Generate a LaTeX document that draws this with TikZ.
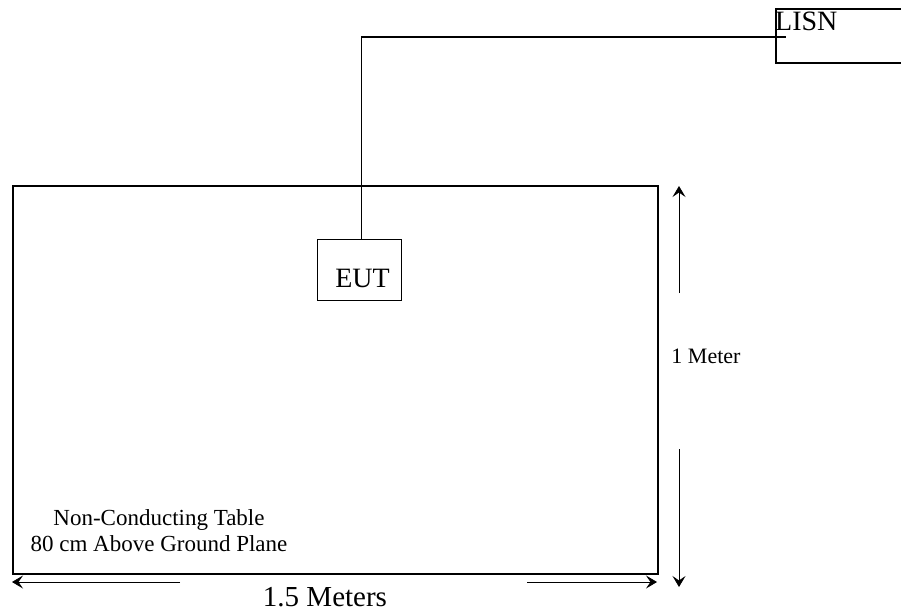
\documentclass[tikz,border=0pt]{standalone}
\usepackage{fontspec}
\setmainfont{Liberation Serif}
\usetikzlibrary{arrows.meta,calc,positioning}

\begin{document}
\begin{tikzpicture}[x=1pt, y=-1pt,
    box/.style={draw, line width=1pt, inner sep=0pt},
    dim/.style={line width=0.8pt, -{Stealth[length=11pt,width=13pt,inset=4.5pt]}}]
    \useasboundingbox (0,0) rectangle (901,611);

    % Table, EUT and LISN
    \node[box, line width=2.4pt, anchor=north west, minimum width=645pt, minimum height=388pt] (table) at (12,185) {};
    \node[box, anchor=north west, minimum width=84pt, minimum height=61pt] (eut) at (317,239) {};
    \node[font=\fontsize{28}{32}\selectfont] (eutlabel) at ([xshift=3pt,yshift=-8pt]eut.center) {EUT};
    \node[box, line width=1.8pt, anchor=north west, minimum width=140pt, minimum height=54pt] (lisn) at (775,8) {};
    \node[font=\fontsize{28}{32}\selectfont, anchor=base west, inner sep=0pt] (lisnlabel) at ([yshift=-22pt]lisn.north west) {LISN};

    % Power cord
    \coordinate (cordend) at (786,37);
    \draw[line width=1.4pt] ([xshift=2pt]eut.north) |- (cordend);

    % Dimension arrows
    \coordinate (vtop) at (679,186);
    \coordinate (vup) at (679,293);
    \coordinate (vdown) at (679,449);
    \coordinate (vbot) at (679,587);
    \coordinate (hleft) at (12,582);
    \coordinate (hl) at (180,582);
    \coordinate (hr) at (527,582);
    \coordinate (hright) at (657,582);
    \draw[dim] (vup) -- (vtop);
    \draw[dim] (vdown) -- (vbot);
    \draw[dim] (hl) -- (hleft);
    \draw[dim] (hr) -- (hright);

    % Labels
    \node[font=\fontsize{22}{26}\selectfont] (meter) at (706,356) {1 Meter};
    \node[font=\fontsize{29}{33}\selectfont] (meters) at (325,597) {1.5 Meters};
    \node[font=\fontsize{23}{26}\selectfont, align=center, anchor=base] (tabletext) at (159,551)
        {Non-Conducting Table\\80 cm Above Ground Plane};
\end{tikzpicture}
\end{document}
